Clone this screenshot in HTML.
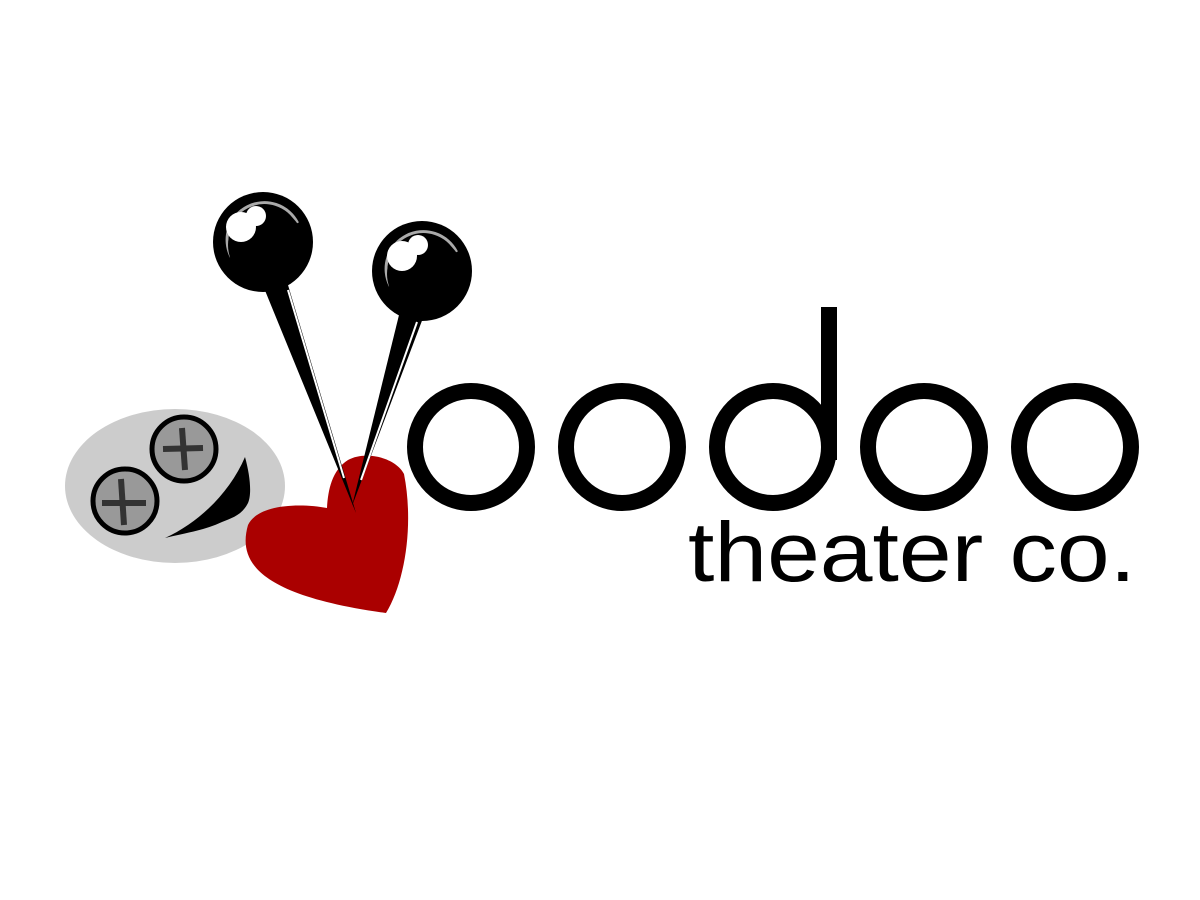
<!DOCTYPE html>
<html><head><meta charset="utf-8"><style>
html,body{margin:0;padding:0;background:#fff;}
svg{display:block;}
</style></head><body>
<svg width="1200" height="900" viewBox="0 0 1200 900" xmlns="http://www.w3.org/2000/svg">
<rect width="1200" height="900" fill="#fff"/>
<ellipse cx="175" cy="486" rx="110" ry="77" fill="#cccccc"/>
<g stroke="#000" stroke-width="5" fill="#999">
<circle cx="184" cy="449" r="32"/>
<circle cx="125" cy="501" r="32"/>
</g>
<g stroke="#333" stroke-width="6" fill="none">
<line x1="163" y1="449" x2="203" y2="448"/><line x1="182" y1="428" x2="185" y2="470"/>
<line x1="102" y1="503" x2="146" y2="503"/><line x1="121" y1="479" x2="124" y2="525"/>
</g>
<path d="M165,538 C200,522 230,492 245,457 C250,475 252,494 248,503 C242,515 232,518 222,522 C205,530 190,532 165,538 Z" fill="#000"/>
<path d="M386,613 C405,582 414,525 404,474 C396,458 366,450 348,460 C332,470 328,490 327,508 C300,503 258,504 248,525 C238,560 255,595 386,613 Z" fill="#aa0000"/>
<path d="M264,288 L288,285 L356,513 Z" fill="#000"/>
<line x1="288" y1="290" x2="344" y2="478" stroke="#fff" stroke-width="2"/>
<path d="M399,315 L423,318 L352,506 Z" fill="#000"/>
<line x1="417" y1="322" x2="361" y2="480" stroke="#fff" stroke-width="2"/>
<circle cx="263" cy="242" r="50" fill="#000"/>
<path d="M228,245 A37,37 0 0 1 302,236" fill="none" stroke="#aaa" stroke-width="3" transform="rotate(-20 263 242)"/>
<circle cx="266" cy="245" r="38" fill="#000"/>
<circle cx="241" cy="227" r="15" fill="#fff"/>
<circle cx="256" cy="216" r="10" fill="#fff"/>
<circle cx="422" cy="271" r="50" fill="#000"/>
<path d="M387,274 A37,37 0 0 1 461,265" fill="none" stroke="#aaa" stroke-width="3" transform="rotate(-20 422 271)"/>
<circle cx="425" cy="274" r="38" fill="#000"/>
<circle cx="402" cy="256" r="15" fill="#fff"/>
<circle cx="418" cy="245" r="10" fill="#fff"/>
<g fill="none" stroke="#000" stroke-width="16">
<circle cx="471" cy="447" r="56"/>
<circle cx="622" cy="447" r="56"/>
<circle cx="773" cy="447" r="56"/>
<circle cx="924" cy="447" r="56"/>
<circle cx="1075" cy="447" r="56"/>
</g>
<rect x="821" y="307" width="16" height="153" fill="#000"/>
<text x="688" y="581" font-family="Liberation Sans, sans-serif" font-size="84" fill="#000" textLength="448" lengthAdjust="spacingAndGlyphs">theater co.</text>
</svg>
</body></html>
